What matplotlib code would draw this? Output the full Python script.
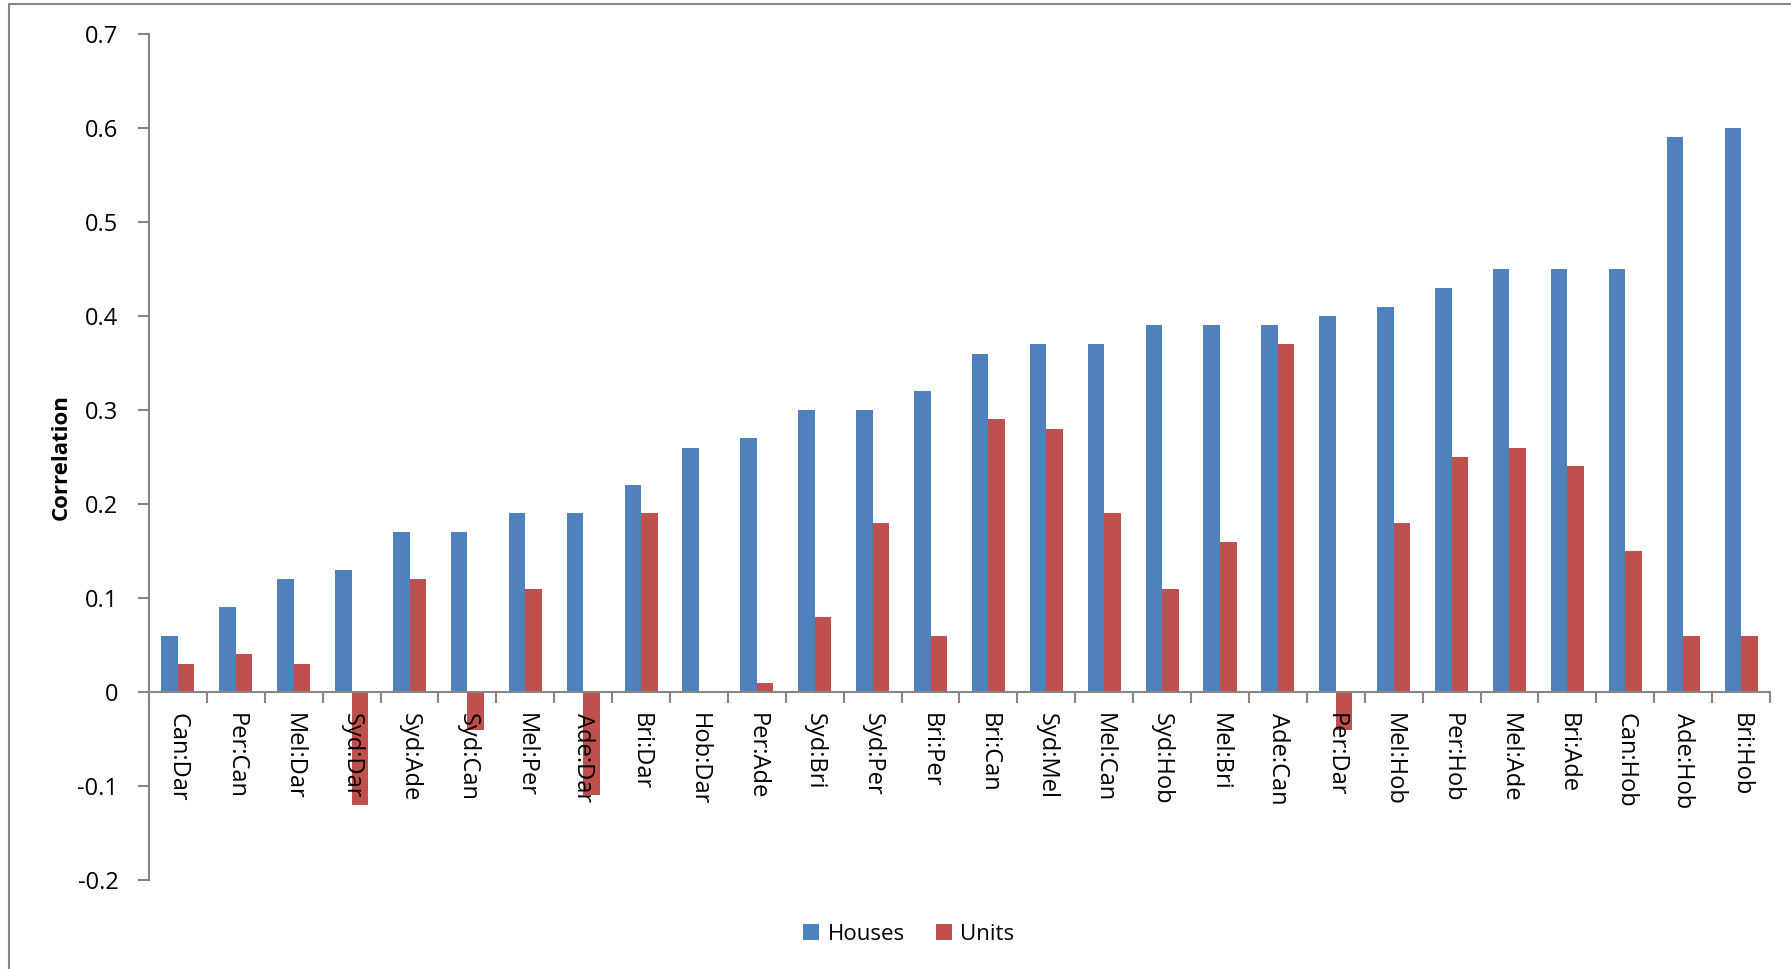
import numpy as np
import matplotlib
matplotlib.use("Agg")
import matplotlib.pyplot as plt
from matplotlib.patches import Rectangle

pairs = ["Can:Dar", "Per:Can", "Mel:Dar", "Syd:Dar", "Syd:Ade", "Syd:Can", "Mel:Per",
         "Ade:Dar", "Bri:Dar", "Hob:Dar", "Per:Ade", "Syd:Bri", "Syd:Per", "Bri:Per",
         "Bri:Can", "Syd:Mel", "Mel:Can", "Syd:Hob", "Mel:Bri", "Ade:Can", "Per:Dar",
         "Mel:Hob", "Per:Hob", "Mel:Ade", "Bri:Ade", "Can:Hob", "Ade:Hob", "Bri:Hob"]
houses = [0.06, 0.09, 0.12, 0.13, 0.17, 0.17, 0.19, 0.19, 0.22, 0.26, 0.27, 0.30, 0.30, 0.32,
          0.36, 0.37, 0.37, 0.39, 0.39, 0.39, 0.40, 0.41, 0.43, 0.45, 0.45, 0.45, 0.59, 0.60]
units = [0.03, 0.04, 0.03, -0.12, 0.12, -0.04, 0.11, -0.11, 0.19, 0.0, 0.01, 0.08, 0.18, 0.06,
         0.29, 0.28, 0.19, 0.11, 0.16, 0.37, -0.04, 0.18, 0.25, 0.26, 0.24, 0.15, 0.06, 0.06]

blue = "#4F81BD"
red = "#C0504D"
grey = "#868686"

plt.rcParams['font.family'] = ['Open Sans', 'DejaVu Sans']

W, H = 1791, 969
fig = plt.figure(figsize=(W / 100, H / 100), dpi=100)
ax = fig.add_axes([149 / W, 1 - 880 / H, (1770 - 149) / W, (880 - 34) / H])

x = np.arange(len(pairs))
bw = 1 / 3.5
ax.bar(x - bw / 2, houses, bw, color=blue, label="Houses")
ax.bar(x + bw / 2, units, bw, color=red, label="Units")

ax.set_xlim(-0.5, len(pairs) - 0.5)
ax.set_ylim(-0.2, 0.7)
yt = np.arange(-0.2, 0.71, 0.1)
ax.set_yticks(yt)
ax.set_yticklabels(["%g" % round(v, 1) for v in yt])

# x axis sits at zero; ticks on category boundaries, labels at centres
ax.spines['bottom'].set_position(('data', 0))
ax.spines['top'].set_visible(False)
ax.spines['right'].set_visible(False)
for s in ('left', 'bottom'):
    ax.spines[s].set_color(grey)
    ax.spines[s].set_linewidth(1.5)

ax.set_xticks(np.arange(-0.5, len(pairs), 1.0))
ax.set_xticklabels([])
ax.set_xticks(x, minor=True)
ax.set_xticklabels(pairs, minor=True, rotation=-90, fontsize=17)
ax.tick_params(axis='x', which='major', direction='out', length=8, width=1.5, color=grey)
ax.tick_params(axis='x', which='minor', length=0, pad=15)
ax.tick_params(axis='y', direction='out', length=8, width=1.5, color=grey, labelsize=17, pad=14)

ax.set_ylabel("Correlation", fontsize=16, fontweight='bold')
ax.yaxis.set_label_coords(72 / W, 1 - 457 / H, transform=fig.transFigure)

fig.legend(loc='center', bbox_to_anchor=(909 / W, 1 - 934 / H), ncol=2, frameon=False,
           fontsize=16, handlelength=0.7, handleheight=0.7, handletextpad=0.4,
           columnspacing=1.4)

# chart border
fig.patches.append(Rectangle((9 / W, -0.1), 1.2, 1.1 - 4 / H, transform=fig.transFigure,
                             fill=False, edgecolor=grey, linewidth=1.5))

fig.savefig("out.png", dpi=100)
